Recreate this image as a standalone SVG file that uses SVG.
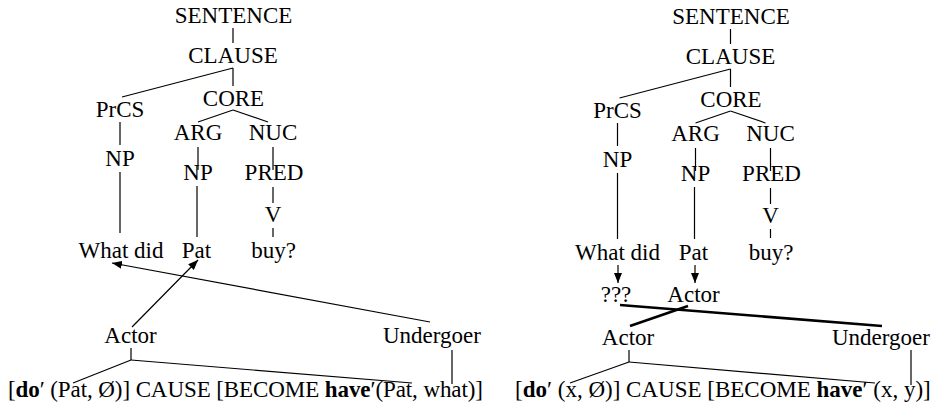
<svg xmlns="http://www.w3.org/2000/svg" width="939" height="412" viewBox="0 0 939 412" font-family="'Liberation Serif', 'Times New Roman', Times, serif">
  <style>
    text { font-family: 'Liberation Serif', 'Times New Roman', Times, serif; font-size: 23px; fill: #000; }
    .c { text-anchor: middle; }
    .b { font-weight: bold; }
    .ln { stroke: #000; stroke-width: 1.2; fill: none; }
    .thick { stroke: #000; stroke-width: 2.6; fill: none; }
    .arr { stroke: #000; stroke-width: 1.2; fill: none; marker-end: url(#head); }
  </style>
  <defs>
    <marker id="head" viewBox="0 0 10 8" refX="10" refY="4" markerWidth="10" markerHeight="8" markerUnits="userSpaceOnUse" orient="auto">
      <path d="M0,0 L10,4 L0,8 z" fill="#000"/>
    </marker>
  </defs>
  <rect width="939" height="412" fill="#fff"/>

  <!-- Left tree: "What did Pat buy?" -->
  <g id="left-tree">
    <g id="l-sentence"><text class="c" x="233.5" y="23">SENTENCE</text></g>
    <g id="l-clause"><text class="c" x="233" y="63">CLAUSE</text></g>
    <g id="l-core"><text class="c" x="233.5" y="106">CORE</text></g>
    <g id="l-prcs"><text class="c" x="120" y="117">PrCS</text></g>
    <g id="l-np1"><text class="c" x="120" y="166">NP</text></g>
    <g id="l-arg"><text class="c" x="198" y="140">ARG</text></g>
    <g id="l-nuc"><text class="c" x="273" y="140">NUC</text></g>
    <g id="l-np2"><text class="c" x="198" y="180">NP</text></g>
    <g id="l-pred"><text class="c" x="274" y="180">PRED</text></g>
    <g id="l-v"><text class="c" x="273" y="222">V</text></g>
    <g id="l-whatdid"><text class="c" x="121" y="258">What did</text></g>
    <g id="l-pat"><text class="c" x="196.5" y="258">Pat</text></g>
    <g id="l-buy"><text class="c" x="273.5" y="258">buy?</text></g>
    <g id="l-actor"><text class="c" x="130.5" y="343">Actor</text></g>
    <g id="l-undergoer"><text x="383" y="343">Undergoer</text></g>
    <g id="l-logic"><text x="8" y="397" textLength="475" lengthAdjust="spacing">[<tspan class="b">do</tspan>′ (Pat, Ø)] CAUSE [BECOME <tspan class="b">have</tspan>′(Pat, what)]</text></g>
  </g>

  <g id="left-connectors">
    <line class="ln" x1="233" y1="28" x2="233" y2="43"/>
    <line class="ln" x1="233" y1="68" x2="122" y2="97"/>
    <line class="ln" x1="233" y1="68" x2="233" y2="86"/>
    <line class="ln" x1="120" y1="122" x2="120" y2="145"/>
    <line class="ln" x1="120" y1="172" x2="120" y2="233"/>
    <line class="ln" x1="233" y1="110" x2="198" y2="122"/>
    <line class="ln" x1="233" y1="110" x2="268" y2="122"/>
    <line class="ln" x1="198" y1="147" x2="198" y2="170"/>
    <line class="ln" x1="273" y1="147" x2="273" y2="170"/>
    <line class="ln" x1="197" y1="186" x2="197" y2="237"/>
    <line class="ln" x1="273" y1="187" x2="273" y2="203"/>
    <line class="ln" x1="273" y1="228" x2="273" y2="237"/>
    <line class="arr" x1="132" y1="327" x2="198" y2="260"/>
    <line class="arr" x1="430" y1="322" x2="112" y2="263"/>
    <line class="ln" x1="131" y1="348" x2="131" y2="360"/>
    <line class="ln" x1="131" y1="360" x2="73" y2="383"/>
    <line class="ln" x1="131" y1="360" x2="412" y2="383"/>
    <line class="ln" x1="452" y1="350" x2="452" y2="384"/>
  </g>

  <!-- Right tree: same clause with generalized logical structure -->
  <g id="right-tree">
    <g id="r-sentence"><text class="c" x="731" y="24">SENTENCE</text></g>
    <g id="r-clause"><text class="c" x="730.5" y="64">CLAUSE</text></g>
    <g id="r-core"><text class="c" x="731" y="107">CORE</text></g>
    <g id="r-prcs"><text class="c" x="617.5" y="118">PrCS</text></g>
    <g id="r-np1"><text class="c" x="617.5" y="167">NP</text></g>
    <g id="r-arg"><text class="c" x="695.5" y="141">ARG</text></g>
    <g id="r-nuc"><text class="c" x="770.5" y="141">NUC</text></g>
    <g id="r-np2"><text class="c" x="695.5" y="181">NP</text></g>
    <g id="r-pred"><text class="c" x="771.5" y="181">PRED</text></g>
    <g id="r-v"><text class="c" x="770.5" y="223">V</text></g>
    <g id="r-whatdid"><text class="c" x="617.5" y="260">What did</text></g>
    <g id="r-pat"><text class="c" x="693.5" y="260">Pat</text></g>
    <g id="r-buy"><text class="c" x="771" y="260">buy?</text></g>
    <g id="r-unknown"><text class="c" x="616" y="302">???</text></g>
    <g id="r-actor-top"><text class="c" x="693.5" y="302">Actor</text></g>
    <g id="r-actor"><text class="c" x="628" y="345">Actor</text></g>
    <g id="r-undergoer"><text x="832" y="345">Undergoer</text></g>
    <g id="r-logic"><text x="515" y="397">[<tspan class="b">do</tspan>′ (x, Ø)] CAUSE [BECOME <tspan class="b">have</tspan>′ (x, y)]</text></g>
  </g>

  <g id="right-connectors">
    <line class="ln" x1="730.5" y1="29" x2="730.5" y2="44"/>
    <line class="ln" x1="730.5" y1="69" x2="619.5" y2="98"/>
    <line class="ln" x1="730.5" y1="69" x2="730.5" y2="87"/>
    <line class="ln" x1="617.5" y1="123" x2="617.5" y2="146"/>
    <line class="ln" x1="617.5" y1="173" x2="617.5" y2="239"/>
    <line class="ln" x1="730.5" y1="111" x2="695.5" y2="123"/>
    <line class="ln" x1="730.5" y1="111" x2="765.5" y2="123"/>
    <line class="ln" x1="695.5" y1="148" x2="695.5" y2="171"/>
    <line class="ln" x1="770.5" y1="148" x2="770.5" y2="171"/>
    <line class="ln" x1="694.5" y1="187" x2="694.5" y2="239"/>
    <line class="ln" x1="770.5" y1="188" x2="770.5" y2="204"/>
    <line class="ln" x1="770.5" y1="229" x2="770.5" y2="238"/>
    <line class="arr" x1="618" y1="265" x2="618" y2="283"/>
    <line class="arr" x1="695" y1="265" x2="695" y2="283"/>
    <line class="thick" x1="620" y1="305" x2="882" y2="326"/>
    <line class="thick" x1="630" y1="326" x2="688" y2="306"/>
    <line class="ln" x1="629" y1="350" x2="629" y2="362"/>
    <line class="ln" x1="629" y1="362" x2="570" y2="383"/>
    <line class="ln" x1="629" y1="362" x2="875" y2="383"/>
    <line class="ln" x1="911" y1="350" x2="911" y2="385"/>
  </g>
</svg>
